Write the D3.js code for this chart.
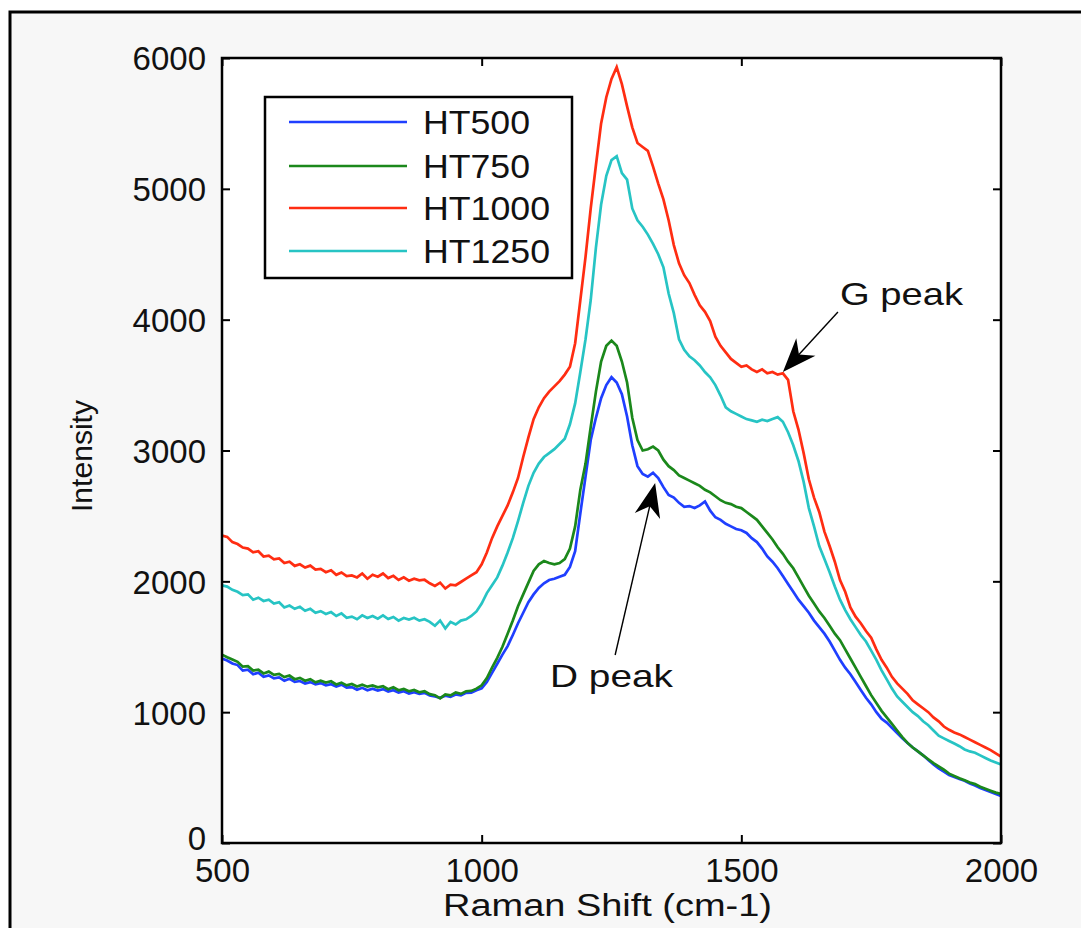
<!DOCTYPE html>
<html>
<head>
<meta charset="utf-8">
<script src="https://cdn.jsdelivr.net/npm/d3@7"></script>
<style>
  html,body{margin:0;padding:0;background:#ffffff;}
  svg{display:block;}
  text{font-family:"Liberation Sans",Arial,Helvetica,sans-serif;fill:#111;}
</style>
</head>
<body>
<svg id="chart" width="1081" height="928"></svg>
<script>
// ---------- DATA ----------
const shiftStart = 500, shiftStep = 10; // Raman shift grid: 500..2000 step 10
const seriesNames = ["HT500", "HT750", "HT1000", "HT1250"];
const xTicks = [500, 1000, 1500, 2000];
const yTicks = [0, 1000, 2000, 3000, 4000, 5000, 6000];

const ht500 = [
1410,1395,1372,1360,1318,1325,1290,1302,1270,1281,
1258,1266,1240,1255,1232,1238,1219,1230,1212,1222,
1205,1214,1196,1210,1188,1192,1172,1186,1168,1180,
1165,1176,1158,1168,1150,1160,1142,1152,1140,1148,
1128,1120,1110,1126,1118,1135,1128,1148,1150,1168,
1182,1230,1300,1370,1440,1505,1590,1680,1760,1840,
1900,1950,1985,2010,2020,2035,2050,2110,2230,2520,
2800,3080,3250,3400,3500,3560,3520,3430,3260,3040,
2880,2820,2800,2830,2790,2720,2660,2640,2600,2570,
2575,2560,2580,2610,2540,2490,2470,2440,2420,2400,
2390,2370,2330,2300,2250,2190,2150,2100,2040,1980,
1920,1860,1810,1760,1700,1650,1600,1540,1470,1400,
1340,1290,1230,1170,1110,1060,1000,950,920,880,
840,800,765,730,700,670,635,600,570,545,
520,505,490,475,455,440,420,405,390,375,360];

const ht750 = [
1440,1420,1402,1385,1348,1352,1318,1325,1296,1310,
1285,1292,1268,1280,1252,1262,1240,1252,1228,1240,
1226,1236,1212,1226,1205,1215,1196,1210,1195,1204,
1190,1198,1175,1190,1168,1178,1160,1170,1152,1160,
1138,1130,1105,1135,1128,1150,1140,1160,1162,1180,
1205,1260,1340,1415,1500,1600,1700,1810,1900,1990,
2080,2130,2155,2140,2130,2140,2170,2250,2420,2700,
2900,3180,3450,3680,3800,3840,3800,3680,3520,3250,
3080,3000,3010,3030,3000,2930,2880,2850,2810,2790,
2770,2750,2730,2700,2680,2650,2620,2600,2590,2570,
2560,2530,2500,2470,2420,2370,2320,2260,2210,2150,
2100,2030,1960,1890,1830,1770,1720,1660,1600,1550,
1480,1410,1340,1270,1200,1130,1070,1010,960,910,
860,810,765,730,700,670,640,610,585,560,
530,512,495,480,462,450,430,415,400,385,375];

const ht1000 = [
2350,2340,2300,2285,2258,2250,2222,2230,2190,2196,
2168,2175,2140,2150,2118,2130,2105,2120,2090,2095,
2070,2085,2050,2068,2040,2045,2030,2060,2020,2050,
2035,2060,2025,2042,2010,2030,2005,2020,2008,2012,
1985,1965,1990,1945,1975,1970,1995,2020,2045,2070,
2130,2220,2330,2420,2500,2580,2680,2790,2950,3100,
3240,3330,3400,3450,3490,3530,3580,3640,3820,4150,
4480,4850,5180,5500,5700,5840,5930,5800,5630,5470,
5350,5320,5290,5170,5040,4920,4760,4570,4430,4340,
4280,4190,4110,4060,3990,3870,3800,3750,3700,3670,
3640,3650,3620,3600,3620,3590,3600,3580,3590,3540,
3300,3160,2980,2780,2640,2530,2380,2270,2150,2010,
1920,1800,1730,1680,1620,1570,1480,1400,1340,1270,
1220,1180,1140,1090,1060,1030,1000,960,930,890,
865,845,830,810,790,770,750,730,710,685,660];

const ht1250 = [
1970,1960,1935,1920,1895,1900,1860,1875,1850,1860,
1830,1840,1800,1815,1790,1805,1775,1790,1760,1772,
1750,1765,1735,1755,1722,1730,1710,1740,1720,1735,
1715,1740,1712,1728,1700,1720,1708,1722,1700,1710,
1690,1660,1700,1640,1690,1670,1700,1710,1735,1770,
1830,1910,1970,2030,2120,2220,2330,2460,2600,2730,
2830,2900,2950,2980,3010,3050,3090,3200,3360,3600,
3850,4150,4550,4880,5100,5220,5250,5120,5070,4850,
4760,4710,4650,4580,4500,4400,4200,4050,3850,3770,
3720,3690,3650,3600,3560,3500,3420,3330,3300,3280,
3260,3240,3230,3220,3235,3225,3240,3255,3220,3140,
3040,2920,2760,2560,2420,2270,2170,2070,1960,1860,
1780,1710,1650,1590,1540,1470,1400,1320,1250,1180,
1120,1080,1040,1000,970,930,900,860,820,800,
780,760,740,715,700,690,670,650,630,615,600];

// annotations: tail and tip in data coordinates (shift, intensity)
const annotations = [
  {label: "G peak", tail: [1686, 4059], tip: [1580, 3600]},
  {label: "D peak", tail: [1257, 1437], tip: [1334, 2752]}
];

// ---------- LAYOUT ----------
const colors = ["#1f3fff", "#1b881b", "#ff2d12", "#27c4c4"];
const svg = d3.select("#chart");
const W = 1081, H = 928;
const plot = {left: 222, right: 1001, top: 58, bottom: 843};

// figure background and frame
svg.append("rect").attr("x", 0).attr("y", 0).attr("width", W).attr("height", H).attr("fill", "#ffffff");
svg.append("rect").attr("x", 10).attr("y", 12).attr("width", 1110).attr("height", 1000)
  .attr("fill", "#f7f7f7").attr("stroke", "#000").attr("stroke-width", 3);

const x = d3.scaleLinear().domain([500, 2000]).range([plot.left, plot.right]);
const y = d3.scaleLinear().domain([0, 6000]).range([plot.bottom, plot.top]);

// plot area
svg.append("rect").attr("x", plot.left).attr("y", plot.top)
  .attr("width", plot.right - plot.left).attr("height", plot.bottom - plot.top)
  .attr("fill", "#ffffff");

svg.append("clipPath").attr("id", "clip").append("rect")
  .attr("x", plot.left).attr("y", plot.top)
  .attr("width", plot.right - plot.left).attr("height", plot.bottom - plot.top);

const series = [ht500, ht750, ht1000, ht1250];
const line = d3.line()
  .x((d, i) => x(shiftStart + i * shiftStep))
  .y(d => y(d))
  .curve(d3.curveLinear);

const g = svg.append("g").attr("clip-path", "url(#clip)");
series.forEach((s, k) => {
  g.append("path").datum(s)
    .attr("d", line)
    .attr("fill", "none")
    .attr("stroke", colors[k])
    .attr("stroke-width", 2.7)
    .attr("stroke-linejoin", "miter");
});

// axes
const fontSize = 33;
const axB = svg.append("g").attr("transform", `translate(0,${plot.bottom})`)
  .call(d3.axisBottom(x).tickValues(xTicks).tickSize(-8).tickPadding(16).tickFormat(d3.format("d")));
const axT = svg.append("g").attr("transform", `translate(0,${plot.top})`)
  .call(d3.axisTop(x).tickValues(xTicks).tickSize(-8).tickFormat(""));
const axL = svg.append("g").attr("transform", `translate(${plot.left},0)`)
  .call(d3.axisLeft(y).tickValues(yTicks).tickSize(-8).tickPadding(16).tickFormat(d3.format("d")));
const axR = svg.append("g").attr("transform", `translate(${plot.right},0)`)
  .call(d3.axisRight(y).tickValues(yTicks).tickSize(-8).tickFormat(""));

[axB, axT, axL, axR].forEach(a => {
  a.select(".domain").remove();
  a.selectAll(".tick line").attr("stroke", "#000").attr("stroke-width", 2);
  a.selectAll(".tick text").attr("font-size", fontSize)
    .attr("font-family", '"Liberation Sans",Arial,sans-serif').attr("fill", "#111");
});
axL.selectAll(".tick text").attr("dy", d => d === 0 ? "0.2em" : "0.36em");

// plot frame
svg.append("rect").attr("x", plot.left).attr("y", plot.top)
  .attr("width", plot.right - plot.left).attr("height", plot.bottom - plot.top)
  .attr("fill", "none").attr("stroke", "#000").attr("stroke-width", 2.5);

// axis labels
svg.append("text").attr("x", (plot.left + plot.right) / 2 - 4).attr("y", 916)
  .attr("text-anchor", "middle").attr("font-size", 31)
  .attr("textLength", 329).attr("lengthAdjust", "spacingAndGlyphs")
  .text("Raman Shift (cm-1)");
svg.append("text").attr("transform", `translate(92,456) rotate(-90)`)
  .attr("text-anchor", "middle").attr("font-size", 30)
  .attr("textLength", 112).attr("lengthAdjust", "spacingAndGlyphs")
  .text("Intensity");

// legend
const leg = svg.append("g");
leg.append("rect").attr("x", 265).attr("y", 97).attr("width", 307).attr("height", 181)
  .attr("fill", "#fff").attr("stroke", "#000").attr("stroke-width", 2.5);
const legY = [122, 166, 208, 251];
seriesNames.forEach((n, k) => {
  leg.append("line").attr("x1", 289).attr("x2", 407).attr("y1", legY[k]).attr("y2", legY[k])
    .attr("stroke", colors[k]).attr("stroke-width", 2.6);
  leg.append("text").attr("x", 423).attr("y", legY[k] + 12)
    .attr("font-size", 33).attr("textLength", n.length === 6 ? 127 : 107)
    .attr("lengthAdjust", "spacingAndGlyphs").text(n);
});

// annotations
const textPos = {"G peak": [840, 305], "D peak": [550, 687]};
annotations.forEach(a => {
  const tx = x(a.tail[0]), ty = y(a.tail[1]);
  const px = x(a.tip[0]), py = y(a.tip[1]);
  const dx = px - tx, dy = py - ty, len = Math.hypot(dx, dy);
  const ux = dx / len, uy = dy / len, nx = -uy, ny = ux;
  const L = 34, Wd = 13;
  svg.append("line").attr("x1", tx).attr("y1", ty)
    .attr("x2", px - ux * L * 0.6).attr("y2", py - uy * L * 0.6)
    .attr("stroke", "#000").attr("stroke-width", 1.4);
  const pts = [
    [px, py],
    [px - ux * L + nx * Wd, py - uy * L + ny * Wd],
    [px - ux * L * 0.7, py - uy * L * 0.7],
    [px - ux * L - nx * Wd, py - uy * L - ny * Wd]
  ];
  svg.append("path").attr("d", "M" + pts.map(p => p.join(",")).join("L") + "Z").attr("fill", "#000");
  const tp = textPos[a.label];
  svg.append("text").attr("x", tp[0]).attr("y", tp[1]).attr("font-size", 32)
    .attr("textLength", 123).attr("lengthAdjust", "spacingAndGlyphs").text(a.label);
});
</script>
</body>
</html>
